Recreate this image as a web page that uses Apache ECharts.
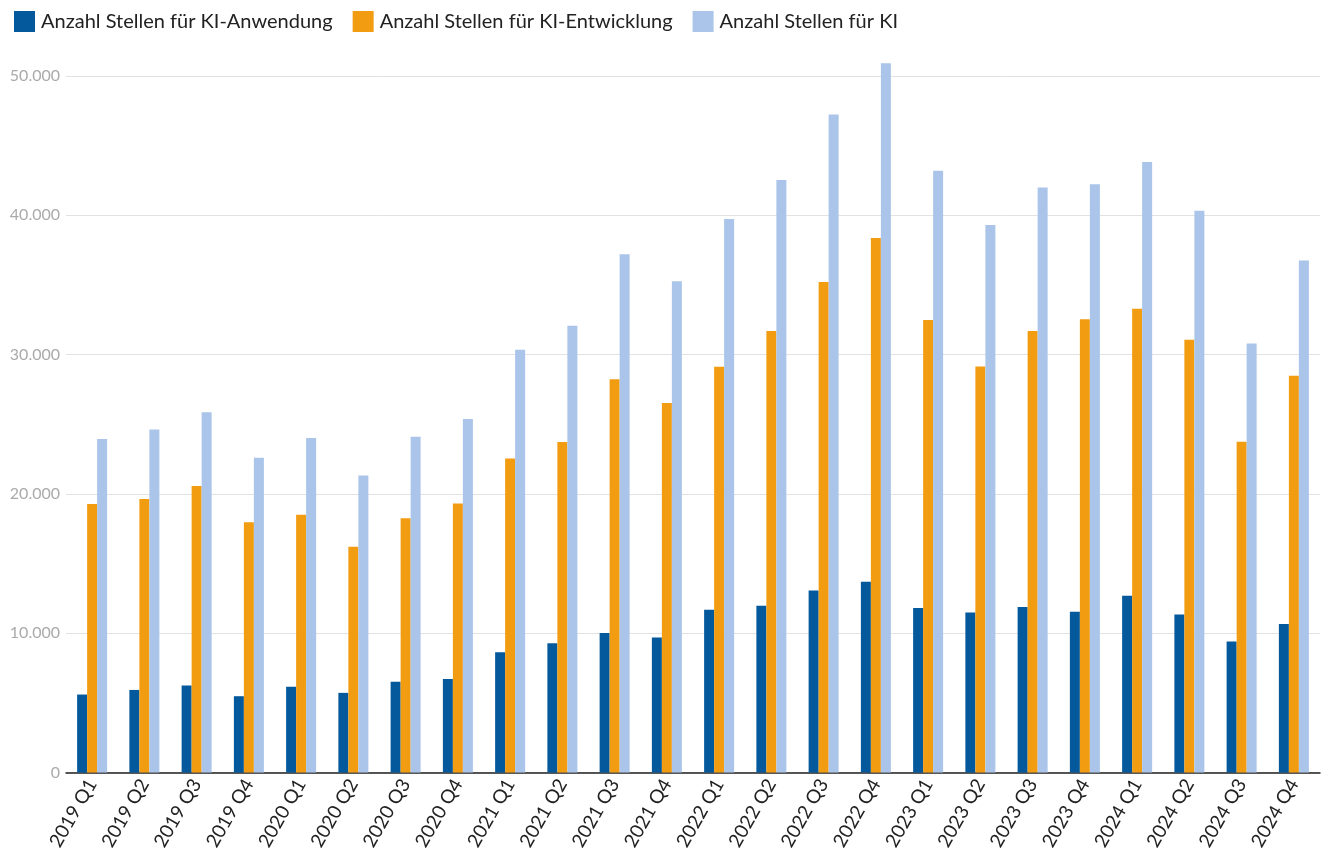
<!DOCTYPE html>
<html>
<head>
<meta charset="utf-8">
<script src="https://cdn.jsdelivr.net/npm/echarts@6/dist/echarts.min.js"></script>
<style>
html,body{margin:0;padding:0;background:#fff;}
#chart{width:1322px;height:853px;}
</style>
</head>
<body>
<div id="chart"></div>
<script>
const categories = ['2019 Q1','2019 Q2','2019 Q3','2019 Q4','2020 Q1','2020 Q2','2020 Q3','2020 Q4',
  '2021 Q1','2021 Q2','2021 Q3','2021 Q4','2022 Q1','2022 Q2','2022 Q3','2022 Q4',
  '2023 Q1','2023 Q2','2023 Q3','2023 Q4','2024 Q1','2024 Q2','2024 Q3','2024 Q4'];
const seriesNames = ['Anzahl Stellen für KI-Anwendung','Anzahl Stellen für KI-Entwicklung','Anzahl Stellen für KI'];
const anwendung = [5600,5930,6240,5480,6150,5720,6510,6720,
  8630,9280,10020,9690,11690,11980,13060,13700,
  11820,11480,11890,11550,12700,11340,9400,10670];
const entwicklung = [19280,19630,20570,17960,18510,16210,18250,19320,
  22550,23720,28240,26520,29130,31690,35210,38380,
  32490,29150,31690,32530,33290,31060,23750,28480];
const gesamt = [23950,24630,25870,22600,24010,21330,24100,25370,
  30350,32070,37210,35270,39740,42540,47230,50910,
  43190,39310,41990,42230,43830,40320,30800,36750];
const yTicks = {min:0, max:50000, interval:10000};
const colors = ['#03599C','#F29C11','#AAC5E9'];

const chart = echarts.init(document.getElementById('chart'));
const font = 'Lato, "Open Sans", "Noto Sans", sans-serif';
chart.setOption({
  animation:false,
  textStyle:{fontFamily:font},
  color:colors,
  legend:{
    left:9, top:6, itemWidth:21, itemHeight:21, itemGap:20,
    icon:'rect',
    textStyle:{fontSize:20, color:'#222', fontFamily:font, padding:[0,0,0,1]},
    data:seriesNames
  },
  grid:{left:66, right:2, top:76, bottom:80, containLabel:false},
  xAxis:{
    type:'category', data:categories,
    axisLine:{lineStyle:{color:'#222', width:1.5}},
    axisTick:{alignWithLabel:true, length:6, lineStyle:{color:'#444'}},
    axisLabel:{rotate:60, fontSize:19, color:'#222', margin:8, interval:0, fontFamily:font}
  },
  yAxis:{
    type:'value', min:yTicks.min, max:yTicks.max, interval:yTicks.interval,
    axisLine:{show:false}, axisTick:{show:false},
    splitLine:{lineStyle:{color:'#e2e2e2', width:1}},
    axisLabel:{fontSize:16, color:'#aaa', margin:6, fontFamily:font,
      formatter:v=>v.toLocaleString('de-DE')}
  },
  series:[
    {name:seriesNames[0], type:'bar', data:anwendung, barWidth:10, barGap:'0%', clip:false},
    {name:seriesNames[1], type:'bar', data:entwicklung, barWidth:10, barGap:'0%', clip:false},
    {name:seriesNames[2], type:'bar', data:gesamt, barWidth:10, barGap:'0%', clip:false}
  ]
});
</script>
</body>
</html>
